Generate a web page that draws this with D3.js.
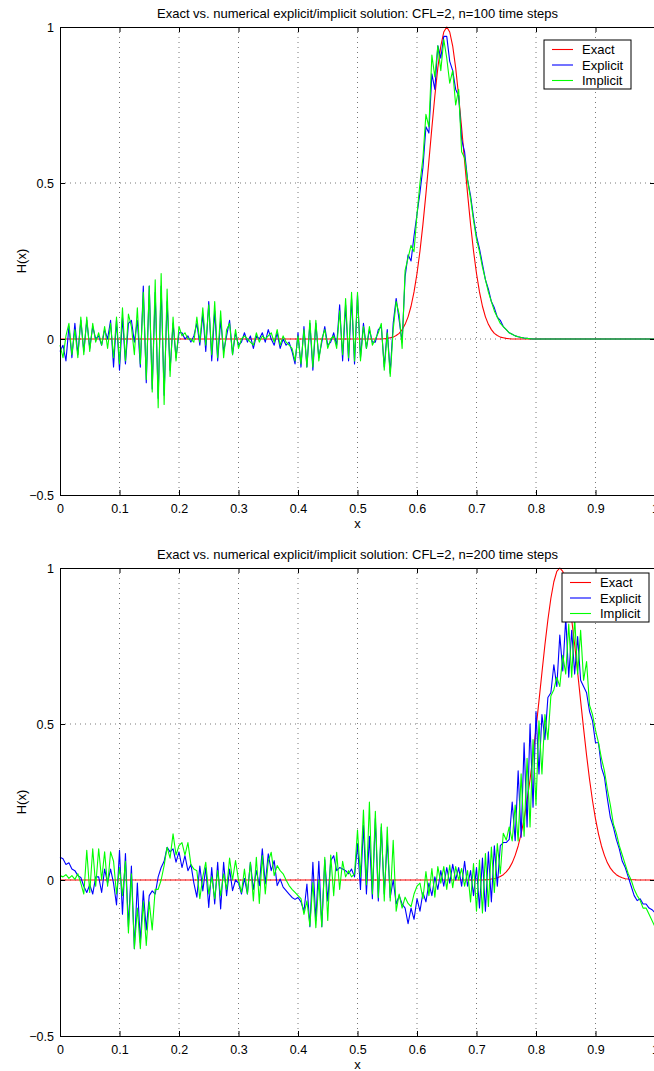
<!DOCTYPE html>
<html>
<head>
<meta charset="utf-8">
<script src="https://cdn.jsdelivr.net/npm/d3@7"></script>
<style>
  body { margin: 0; background: #fff; }
  svg { display: block; font-family: "Liberation Sans", Arial, sans-serif; }
</style>
</head>
<body>
<svg id="fig" width="654" height="1071"></svg>
<script>
// sample spacing of the grid the solutions live on (x = i * xStep, i = 0..200)
const xStep = 0.005;

const xTicks = [0, 0.1, 0.2, 0.3, 0.4, 0.5, 0.6, 0.7, 0.8, 0.9, 1];
const xTickLabels = ['0', '0.1', '0.2', '0.3', '0.4', '0.5', '0.6', '0.7', '0.8', '0.9', '1'];
const yTicks = [-0.5, 0, 0.5, 1];
const yTickLabels = ['\u22120.5', '0', '0.5', '1'];

const seriesNames = ['Exact', 'Explicit', 'Implicit'];
const seriesColors = ['#ff0000', '#0000ff', '#00ff00'];

const titles = [
  'Exact vs. numerical explicit/implicit solution: CFL=2, n=100 time steps',
  'Exact vs. numerical explicit/implicit solution: CFL=2, n=200 time steps'
];

// n = 100
const exact100 = [
  0,0,0,0,0,0,0,0,0,0, 0,0,0,0,0,0,0,0,0,0,
  0,0,0,0,0,0,0,0,0,0, 0,0,0,0,0,0,0,0,0,0,
  0,0,0,0,0,0,0,0,0,0, 0,0,0,0,0,0,0,0,0,0,
  0,0,0,0,0,0,0,0,0,0, 0,0,0,0,0,0,0,0,0,0,
  0,0,0,0,0,0,0,0,0,0, 0,0,0,0,0,0,0,0,0,0,
  0,0,0,0,0,0,0,0,0,0.001, 0.002,0.004,0.006,0.011,0.018,0.030,0.047,0.071,0.105,0.151,
  0.210,0.282,0.368,0.465,0.570,0.677,0.779,0.869,0.939,0.984, 1,0.984,0.939,0.869,0.779,0.677,0.570,0.465,0.368,0.282,
  0.210,0.151,0.105,0.071,0.047,0.030,0.018,0.011,0.006,0.004, 0.002,0.001,0,0,0,0,0,0,0,0,
  0,0,0,0,0,0,0,0,0,0, 0,0,0,0,0,0,0,0,0,0,
  0,0,0,0,0,0,0,0,0,0, 0,0,0,0,0,0,0,0,0,0,
  0
];
const explicit100 = [
  -0.04,-0.02,-0.07,0.04,-0.06,0.05,-0.05,0.06,-0.04,0.06,
  -0.03,0.04,0.00,0.01,-0.02,0.03,0.00,0.06,-0.09,0.06,
  -0.10,0.07,-0.08,0.05,0.06,-0.01,0.06,-0.09,0.17,-0.14,
  0.17,-0.16,0.15,-0.19,0.17,-0.18,0.12,-0.10,0.05,-0.06,
  0.02,0.02,0.00,0.01,-0.01,0.01,0.05,-0.02,0.08,-0.04,
  0.12,-0.07,0.09,-0.07,0.06,-0.04,0.01,0.06,-0.05,0.02,
  -0.02,-0.01,0.02,-0.01,0.01,-0.03,0.01,0.00,0.02,-0.01,
  0.03,0.00,-0.02,0.02,-0.03,0.00,-0.02,-0.01,-0.04,-0.08,
  0.02,-0.09,0.04,-0.09,0.05,-0.10,0.05,-0.06,-0.01,0.04,
  -0.02,-0.01,0.02,-0.02,0.11,-0.07,0.11,-0.07,0.13,-0.08,
  0.14,-0.06,0.05,-0.03,0.03,-0.01,-0.01,0.03,0.04,-0.09,
  0.03,-0.11,0.05,0.13,0.06,-0.01,0.20,0.27,0.25,0.33,
  0.40,0.47,0.55,0.68,0.66,0.85,0.80,0.94,0.90,0.97,
  0.97,0.89,0.86,0.80,0.78,0.64,0.60,0.51,0.46,0.39,
  0.33,0.29,0.24,0.19,0.16,0.12,0.10,0.07,0.06,0.04,
  0.03,0.02,0.015,0.01,0.007,0.005,0.003,0.002,0.001,0,
  0,0,0,0,0,0,0,0,0,0, 0,0,0,0,0,0,0,0,0,0,
  0,0,0,0,0,0,0,0,0,0, 0,0,0,0,0,0,0,0,0,0,
  0
];
const implicit100 = [
  -0.02,-0.06,0.01,0.05,-0.05,0.03,-0.06,0.07,-0.05,0.07,
  -0.04,0.05,-0.01,0.02,-0.02,0.04,-0.03,0.05,-0.06,0.07,
  -0.08,0.10,-0.07,0.08,0.04,-0.05,0.10,-0.08,0.15,-0.13,
  0.17,-0.17,0.19,-0.22,0.21,-0.21,0.16,-0.12,0.07,-0.07,
  0.04,0.01,0.02,0.00,0.00,-0.01,0.07,-0.01,0.10,-0.02,
  0.11,-0.05,0.12,-0.06,0.09,-0.06,0.03,0.05,-0.05,0.03,
  -0.03,0.00,0.01,0.00,-0.01,-0.02,0.02,-0.01,0.01,0.00,
  0.01,0.02,-0.01,0.03,-0.02,0.01,-0.01,-0.02,-0.03,-0.07,
  0.01,-0.08,0.03,-0.09,0.06,-0.09,0.06,-0.07,0.00,0.03,
  -0.03,0.00,0.01,-0.03,0.09,-0.05,0.13,-0.06,0.15,-0.07,
  0.15,-0.07,0.04,-0.03,0.04,-0.02,0.00,0.02,0.05,-0.10,
  0.02,-0.12,0.03,0.12,0.08,-0.03,0.22,0.26,0.30,0.28,
  0.40,0.50,0.58,0.72,0.68,0.91,0.84,0.94,0.86,0.96,
  0.90,0.82,0.86,0.75,0.80,0.60,0.58,0.51,0.45,0.38,
  0.32,0.28,0.23,0.19,0.15,0.12,0.09,0.07,0.05,0.04,
  0.03,0.02,0.015,0.01,0.007,0.005,0.003,0.002,0.001,0,
  0,0,0,0,0,0,0,0,0,0, 0,0,0,0,0,0,0,0,0,0,
  0,0,0,0,0,0,0,0,0,0, 0,0,0,0,0,0,0,0,0,0,
  0
];

// n = 200
const exact200 = [
  0,0,0,0,0,0,0,0,0,0, 0,0,0,0,0,0,0,0,0,0,
  0,0,0,0,0,0,0,0,0,0, 0,0,0,0,0,0,0,0,0,0,
  0,0,0,0,0,0,0,0,0,0, 0,0,0,0,0,0,0,0,0,0,
  0,0,0,0,0,0,0,0,0,0, 0,0,0,0,0,0,0,0,0,0,
  0,0,0,0,0,0,0,0,0,0, 0,0,0,0,0,0,0,0,0,0,
  0,0,0,0,0,0,0,0,0,0, 0,0,0,0,0,0,0,0,0,0,
  0,0,0,0,0,0,0,0,0,0, 0,0,0,0,0,0,0,0,0,0,
  0,0,0,0.001,0.001,0.003,0.004,0.007,0.011,0.017,
  0.026,0.038,0.055,0.079,0.109,0.148,0.196,0.254,0.322,0.400,
  0.485,0.574,0.665,0.754,0.834,0.903,0.956,0.989,1,0.989,
  0.956,0.903,0.834,0.754,0.665,0.574,0.485,0.400,0.322,0.254,
  0.196,0.148,0.109,0.079,0.055,0.038,0.026,0.017,0.011,0.007,
  0.004,0.003,0.001,0.001,0,0,0,0,0,0,
  0
];
const explicit200 = [
  0.073,0.068,0.050,0.055,0.035,0.030,0.014,0.008,-0.020,-0.040,
  -0.015,-0.045,0.010,0.010,-0.040,0.035,-0.010,0.035,-0.010,-0.080,
  0.095,-0.110,0.085,-0.150,0.045,-0.220,-0.010,-0.200,-0.035,-0.160,
  -0.050,-0.035,-0.045,0.010,0.040,0.060,0.105,0.090,0.100,0.057,
  0.090,0.040,0.078,0.030,0.050,-0.010,-0.055,0.045,-0.035,0.040,
  -0.088,0.040,-0.077,0.057,-0.093,0.057,-0.050,0.035,-0.034,0.000,
  -0.010,-0.045,0.005,-0.045,0.057,-0.030,0.030,-0.018,0.100,-0.013,
  0.084,0.030,0.062,-0.018,0.003,-0.023,-0.034,-0.045,-0.056,-0.062,
  -0.056,-0.070,-0.100,-0.013,-0.150,0.057,-0.130,0.060,-0.150,0.065,
  -0.067,0.062,0.078,0.030,0.040,0.035,0.030,0.020,0.035,0.010,
  0.115,-0.030,0.175,-0.045,0.140,-0.060,0.197,-0.067,0.170,-0.045,
  0.127,-0.056,0.000,-0.077,-0.050,-0.077,-0.090,-0.140,-0.090,-0.126,
  -0.060,-0.100,-0.040,-0.070,-0.010,-0.050,0.010,-0.030,0.030,-0.020,
  0.040,-0.010,0.050,0.000,0.040,-0.020,0.060,-0.020,0.030,-0.050,
  0.040,-0.090,0.070,-0.100,0.090,-0.070,0.110,-0.020,0.110,0.120,
  0.120,0.130,0.250,0.126,0.350,0.137,0.440,0.170,0.500,0.233,
  0.540,0.340,0.530,0.450,0.585,0.600,0.690,0.620,0.785,0.670,
  0.840,0.650,0.800,0.660,0.780,0.640,0.620,0.600,0.540,0.510,
  0.440,0.440,0.360,0.330,0.260,0.200,0.170,0.130,0.100,0.060,
  0.040,0.010,-0.020,-0.050,-0.066,-0.060,-0.077,-0.077,-0.090,-0.095,
  -0.105
];
const implicit200 = [
  0.014,0.010,0.017,0.005,0.014,0.002,0.020,-0.010,-0.045,0.095,
  -0.040,0.100,-0.020,0.100,0.000,0.090,-0.020,0.090,0.060,-0.045,
  0.040,-0.050,0.060,-0.170,0.020,-0.220,-0.090,-0.220,-0.070,-0.210,
  -0.070,-0.160,-0.030,-0.030,0.000,0.046,0.105,0.070,0.148,0.080,
  0.110,0.120,0.080,0.120,0.050,0.035,0.030,-0.060,0.010,0.057,
  -0.045,0.010,-0.060,0.030,-0.050,0.020,-0.030,0.070,0.000,0.062,
  0.000,-0.040,0.035,-0.045,0.057,-0.067,0.073,-0.075,0.078,-0.045,
  0.060,0.089,0.014,0.046,0.030,0.020,0.000,-0.018,-0.030,-0.040,
  -0.050,-0.060,-0.110,-0.067,-0.147,-0.008,-0.153,0.000,-0.150,0.073,
  -0.130,0.080,-0.050,0.089,-0.030,0.060,0.010,0.030,0.010,0.020,
  0.160,0.010,0.224,-0.015,0.250,-0.045,0.220,-0.056,0.180,-0.067,
  0.170,-0.067,0.127,-0.100,-0.045,-0.090,-0.055,-0.075,-0.085,-0.045,
  -0.020,-0.010,-0.060,0.027,-0.050,0.037,-0.055,0.043,-0.010,0.043,
  -0.030,0.048,-0.025,0.043,0.000,0.037,-0.020,0.030,-0.070,0.053,
  -0.100,0.064,-0.106,0.085,-0.085,0.106,-0.040,0.117,0.020,0.150,
  0.128,0.170,0.125,0.240,0.125,0.340,0.140,0.390,0.170,0.450,
  0.240,0.510,0.340,0.530,0.450,0.590,0.610,0.650,0.620,0.720,
  0.660,0.820,0.650,0.840,0.660,0.800,0.640,0.700,0.560,0.530,
  0.480,0.440,0.390,0.350,0.290,0.240,0.180,0.150,0.110,0.080,
  0.050,0.020,0.000,-0.030,-0.050,-0.065,-0.090,-0.090,-0.110,-0.130,
  -0.150
];

const panels = [
  { title: titles[0], top: 27, bottom: 495, legend: { x: 544, y: 40 },
    series: [exact100, explicit100, implicit100] },
  { title: titles[1], top: 568, bottom: 1036, legend: { x: 562, y: 573 },
    series: [exact200, explicit200, implicit200] }
];

const svg = d3.select('#fig');
const left = 60, right = 655, tickLen = 5;

function drawPanel(p) {
  const g = svg.append('g');
  const x = d3.scaleLinear().domain([0, 1]).range([left, right]);
  const y = d3.scaleLinear().domain([-0.5, 1]).range([p.bottom, p.top]);

  // dotted grid
  g.selectAll('.vgrid')
    .data(xTicks.slice(1, -1))
    .enter().append('line')
      .attr('x1', d => x(d)).attr('x2', d => x(d))
      .attr('y1', p.top).attr('y2', p.bottom)
      .attr('stroke', '#555').attr('stroke-width', 0.8)
      .attr('stroke-dasharray', '1,4');
  g.selectAll('.hgrid')
    .data(yTicks.slice(1, -1))
    .enter().append('line')
      .attr('x1', left).attr('x2', right)
      .attr('y1', d => y(d)).attr('y2', d => y(d))
      .attr('stroke', '#555').attr('stroke-width', 0.8)
      .attr('stroke-dasharray', '1,4');

  // curves: exact, explicit, implicit
  const line = d3.line()
    .x((d, i) => x(i * xStep))
    .y(d => y(d));
  p.series.forEach((s, k) => {
    g.append('path')
      .datum(s)
      .attr('d', line)
      .attr('fill', 'none')
      .attr('stroke', seriesColors[k])
      .attr('stroke-width', 1.1)
      .attr('stroke-linejoin', 'round');
  });

  // axes box with inward ticks on all sides
  const xAxisB = d3.axisBottom(x).tickValues(xTicks)
    .tickFormat((d, i) => xTickLabels[i]).tickSizeInner(-tickLen).tickSizeOuter(0).tickPadding(9);
  const xAxisT = d3.axisTop(x).tickValues(xTicks)
    .tickFormat('').tickSizeInner(-tickLen).tickSizeOuter(0);
  const yAxisL = d3.axisLeft(y).tickValues(yTicks)
    .tickFormat((d, i) => yTickLabels[i]).tickSizeInner(-tickLen).tickSizeOuter(0).tickPadding(6);
  const yAxisR = d3.axisRight(y).tickValues(yTicks)
    .tickFormat('').tickSizeInner(-tickLen).tickSizeOuter(0);

  const axes = [
    [xAxisB, `translate(0,${p.bottom})`],
    [xAxisT, `translate(0,${p.top})`],
    [yAxisL, `translate(${left},0)`],
    [yAxisR, `translate(${right},0)`]
  ];
  axes.forEach(([ax, tr]) => {
    const a = g.append('g').attr('transform', tr).call(ax);
    a.select('.domain').attr('stroke', '#000').attr('stroke-width', 1);
    a.selectAll('.tick line').attr('stroke', '#000');
    a.selectAll('.tick text')
      .attr('fill', '#000')
      .style('font-size', '12.5px')
      .style('font-family', '"Liberation Sans", Arial, sans-serif');
  });

  // labels
  g.append('text')
    .attr('x', (left + right) / 2).attr('y', p.top - 14)
    .attr('text-anchor', 'middle').attr('dominant-baseline', 'central')
    .style('font-size', '13px')
    .text(p.title);
  g.append('text')
    .attr('x', (left + right) / 2).attr('y', p.bottom + 28)
    .attr('text-anchor', 'middle').attr('dominant-baseline', 'central')
    .style('font-size', '13px')
    .text('x');
  g.append('text')
    .attr('transform', `translate(21,${(p.top + p.bottom) / 2}) rotate(-90)`)
    .attr('text-anchor', 'middle').attr('dominant-baseline', 'central')
    .style('font-size', '13px')
    .text('H(x)');

  // legend
  const lg = g.append('g').attr('transform', `translate(${p.legend.x},${p.legend.y})`);
  lg.append('rect')
    .attr('width', 87).attr('height', 49)
    .attr('fill', '#fff').attr('stroke', '#000').attr('stroke-width', 1);
  seriesNames.forEach((name, k) => {
    const yy = 9.5 + k * 15.5;
    lg.append('line')
      .attr('x1', 8).attr('x2', 29).attr('y1', yy).attr('y2', yy)
      .attr('stroke', seriesColors[k]).attr('stroke-width', 1.1);
    lg.append('text')
      .attr('x', 38).attr('y', yy)
      .attr('dominant-baseline', 'central')
      .style('font-size', '13px')
      .text(name);
  });
}

panels.forEach(drawPanel);
</script>
</body>
</html>
